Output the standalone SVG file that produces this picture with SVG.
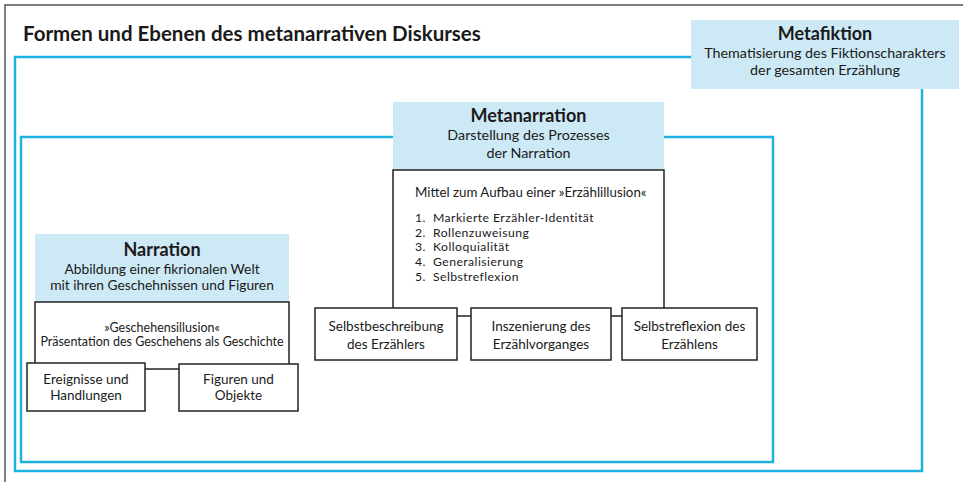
<svg xmlns="http://www.w3.org/2000/svg" width="963" height="482" viewBox="0 0 963 482">
  <style>
    text { font-family: Lato, "Open Sans", "Noto Sans", sans-serif; fill: #1a1a1a; }
    .title { font-size: 20.5px; font-weight: bold; }
    .head { font-size: 18px; font-weight: bold; text-anchor: middle; }
    .sub { font-size: 14.3px; text-anchor: middle; }
    .subn { font-size: 13.8px; text-anchor: middle; }
    .cell { font-size: 13.5px; text-anchor: middle; }
    .body { font-size: 13.3px; }
    .list { font-size: 12.2px; letter-spacing: 0.45px; }
    .bodyn { font-size: 12.5px; text-anchor: middle; }
    .frame { fill: none; stroke: #1eb2e0; stroke-width: 2.5; }
    .header { fill: #cde9f5; }
    .box { fill: #ffffff; stroke: #222; stroke-width: 1.5; }
    .open { fill: #ffffff; stroke: #222; stroke-width: 1.5; }
    .link { stroke: #222; stroke-width: 1.5; fill: none; }
  </style>

  <rect width="963" height="482" fill="#ffffff"/>
  <!-- outer page frame -->
  <path d="M963,5 H5 V482" fill="none" stroke="#555" stroke-width="1.5"/>
  <text class="title" x="23" y="41">Formen und Ebenen des metanarrativen Diskurses</text>

  <!-- level frames -->
  <g id="frames">
    <rect class="frame" x="15" y="57" width="907" height="414"/>
    <rect class="frame" x="21" y="137" width="752" height="325"/>
  </g>

  <g id="metafiktion">
    <rect class="header" x="691" y="20" width="268" height="69"/>
    <text class="head" x="825" y="40">Metafiktion</text>
    <text class="sub" x="825" y="58">Thematisierung des Fiktionscharakters</text>
    <text class="sub" x="825" y="75">der gesamten Erzählung</text>
  </g>

  <g id="metanarration">
    <rect class="header" x="393" y="102" width="271" height="68"/>
    <text class="head" x="528.5" y="122">Metanarration</text>
    <text class="sub" x="528.5" y="140">Darstellung des Prozesses</text>
    <text class="sub" x="528.5" y="158">der Narration</text>
    <path class="open" d="M393,308 V170 H664 V308"/>
    <text class="body" x="415" y="197">Mittel zum Aufbau einer »Erzählillusion«</text>
    <!-- numbered list -->
    <text class="list" x="415" y="222">1.</text>
    <text class="list" x="433" y="222">Markierte Erzähler-Identität</text>
    <text class="list" x="415" y="236.7">2.</text>
    <text class="list" x="433" y="236.7">Rollenzuweisung</text>
    <text class="list" x="415" y="251.4">3.</text>
    <text class="list" x="433" y="251.4">Kolloquialität</text>
    <text class="list" x="415" y="266.1">4.</text>
    <text class="list" x="433" y="266.1">Generalisierung</text>
    <text class="list" x="415" y="280.8">5.</text>
    <text class="list" x="433" y="280.8">Selbstreflexion</text>
  </g>

  <g id="selbstbeschreibung">
    <rect class="box" x="315" y="308" width="142" height="52"/>
    <text class="cell" x="386" y="331">Selbstbeschreibung</text>
    <text class="cell" x="386" y="349">des Erzählers</text>
  </g>
  <g id="inszenierung">
    <rect class="box" x="471" y="308" width="140" height="52"/>
    <text class="cell" x="541" y="331">Inszenierung des</text>
    <text class="cell" x="541" y="349">Erzählvorganges</text>
  </g>
  <g id="selbstreflexion">
    <rect class="box" x="622" y="308" width="135" height="52"/>
    <text class="cell" x="689.5" y="331">Selbstreflexion des</text>
    <text class="cell" x="689.5" y="349">Erzählens</text>
  </g>

  <g id="narration">
    <rect class="header" x="35" y="234" width="254" height="68"/>
    <text class="head" x="162" y="256">Narration</text>
    <text class="subn" x="162" y="273.5">Abbildung einer fikrionalen Welt</text>
    <text class="subn" x="162" y="290">mit ihren Geschehnissen und Figuren</text>
    <path class="open" d="M35,363 V302 H289 V364"/>
    <text class="bodyn" x="162" y="332">»Geschehensillusion«</text>
    <text class="bodyn" x="162" y="346">Präsentation des Geschehens als Geschichte</text>
  </g>

  <g id="ereignisse">
    <rect class="box" x="27" y="363" width="118" height="48"/>
    <text class="cell" x="86" y="384">Ereignisse und</text>
    <text class="cell" x="86" y="400">Handlungen</text>
  </g>
  <g id="figuren">
    <rect class="box" x="179" y="364" width="119" height="47"/>
    <text class="cell" x="238.5" y="384">Figuren und</text>
    <text class="cell" x="238.5" y="400">Objekte</text>
  </g>

  <g id="connectors">
    <line class="link" x1="145" y1="369" x2="179" y2="369"/>
    <line class="link" x1="457" y1="316" x2="471" y2="316"/>
    <line class="link" x1="611" y1="316" x2="622" y2="316"/>
  </g>
</svg>
